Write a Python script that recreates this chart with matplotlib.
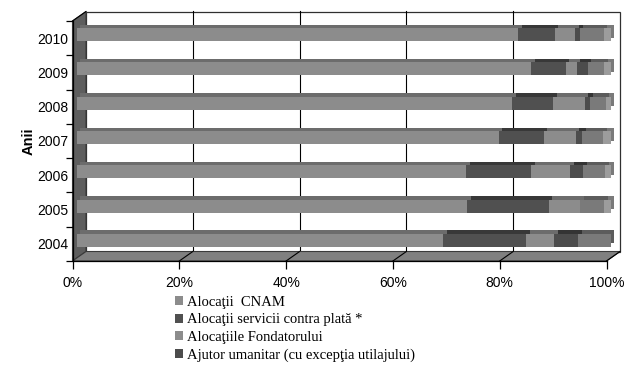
import matplotlib
matplotlib.use("Agg")
import matplotlib.pyplot as plt
from matplotlib.patches import Polygon, Patch, Rectangle
import numpy as np

# Data (percent of total)
years = ["2004", "2005", "2006", "2007", "2008", "2009", "2010"]
cnam = [68.7, 73.2, 73.0, 79.1, 81.6, 85.2, 82.7]
servicii = [15.5, 15.2, 12.2, 8.4, 7.7, 6.4, 6.9]
fondator = [5.3, 5.9, 7.3, 6.0, 5.9, 2.1, 3.8]
umanitar = [4.5, 0.0, 2.4, 1.2, 0.9, 2.0, 0.8]
alte1 = [6.0, 4.5, 4.1, 3.9, 3.0, 3.1, 4.5]
alte2 = [0.0, 1.2, 1.0, 1.4, 0.9, 1.2, 1.3]

labels = ["Alocaţii  CNAM", "Alocaţii servicii contra plată *",
          "Alocaţiile Fondatorului", "Ajutor umanitar (cu excepţia utilajului)"]
series = [cnam, servicii, fondator, umanitar, alte1, alte2]
front_cols = ["#8c8c8c", "#505050", "#8c8c8c", "#4c4c4c", "#7a7a7a", "#9c9c9c"]
top_cols = ["#6c6c6c", "#383838", "#6c6c6c", "#343434", "#5c5c5c", "#7a7a7a"]

W, H = 628, 365
fig = plt.figure(figsize=(W / 100, H / 100), dpi=100)
ax = fig.add_axes([72.5 / W, 1 - 261 / H, 534 / W, 240 / H])
ax.set_xlim(0, 100)
ax.set_ylim(-0.5, 6.5)

# pixel -> data units
PX = 100 / 534
PY = 7 / 240
BX, BY = 13.5 * PX, 9.5 * PY     # back wall offset
FX, FY = 4 * PX, 3.5 * PY        # bar front face offset
KX, KY = 7.5 * PX, 7 * PY        # bar back face offset

# walls and floor
ax.add_patch(Rectangle((BX, -0.5 + BY), 100, 7, fc="white", ec="#303030",
                       lw=0.9, clip_on=False, zorder=0))
for g in [20, 40, 60, 80]:
    ax.plot([g + BX, g + BX], [-0.5 + BY, 6.5 + BY], color="black", lw=0.8,
            clip_on=False, zorder=0.5)
ax.add_patch(Polygon([(0, -0.5), (BX, -0.5 + BY), (BX, 6.5 + BY), (0, 6.5)],
                     closed=True, fc="#5e5e5e", ec="#3a3a3a", lw=0.8,
                     clip_on=False, zorder=1))
ax.add_patch(Polygon([(0, -0.5), (100, -0.5), (100 + BX, -0.5 + BY), (BX, -0.5 + BY)],
                     closed=True, fc="#808080", ec="#3a3a3a", lw=0.8,
                     clip_on=False, zorder=1))
for g in [20, 40, 60, 80, 100]:
    ax.plot([g, g + BX], [-0.5, -0.5 + BY], color="black", lw=0.8,
            clip_on=False, zorder=1.2)
ax.plot([BX, 0], [6.5 + BY, 6.5], color="black", lw=0.8, clip_on=False, zorder=1.2)

# bars: back (top/side) faces first, then front faces
y = np.arange(len(years))
bh = 13 * PY
lefts = np.zeros(len(years))
starts = []
for s in series:
    starts.append(lefts.copy())
    lefts = lefts + np.array(s)
for s, st, c in zip(series, starts, top_cols):
    v = np.array(s)
    m = v > 0
    ax.barh(y[m] + KY, v[m], left=st[m] + KX, height=bh, color=c,
            clip_on=False, zorder=2)
for s, st, c in zip(series, starts, front_cols):
    v = np.array(s)
    m = v > 0
    ax.barh(y[m] + FY, v[m], left=st[m] + FX, height=bh, color=c,
            clip_on=False, zorder=3)

# axes styling
for sp in ["top", "right"]:
    ax.spines[sp].set_visible(False)
ax.spines["left"].set_linewidth(0.9)
ax.spines["bottom"].set_linewidth(0.9)
ax.spines["left"].set_zorder(4)
ax.spines["bottom"].set_zorder(4)

ax.set_xticks([0, 20, 40, 60, 80, 100])
ax.set_xticklabels(["0%", "20%", "40%", "60%", "80%", "100%"],
                   fontfamily="Liberation Sans", fontsize=10)
ax.tick_params(axis="x", length=6, pad=5, width=0.9)
ax.set_yticks(y)
ax.set_yticklabels(years, fontfamily="Liberation Sans", fontsize=10)
ax.set_yticks(np.arange(-0.5, 7, 1), minor=True)
ax.tick_params(axis="y", which="major", length=0, pad=3)
ax.tick_params(axis="y", which="minor", length=5, width=0.9)
ax.set_ylabel("Anii", fontfamily="Liberation Sans", fontsize=10.5,
              fontweight="bold", labelpad=1)

handles = [Patch(fc=c, ec="none") for c in front_cols[:4]]
fig.legend(handles, labels, loc="upper left", bbox_to_anchor=(175 / W, 1 - 296 / H),
           frameon=False, prop={"family": "Liberation Serif", "size": 10.5},
           handlelength=0.55, handleheight=0.55, handletextpad=0.25,
           labelspacing=0.3, borderpad=0, borderaxespad=0)

fig.savefig("out.png", dpi=100)
